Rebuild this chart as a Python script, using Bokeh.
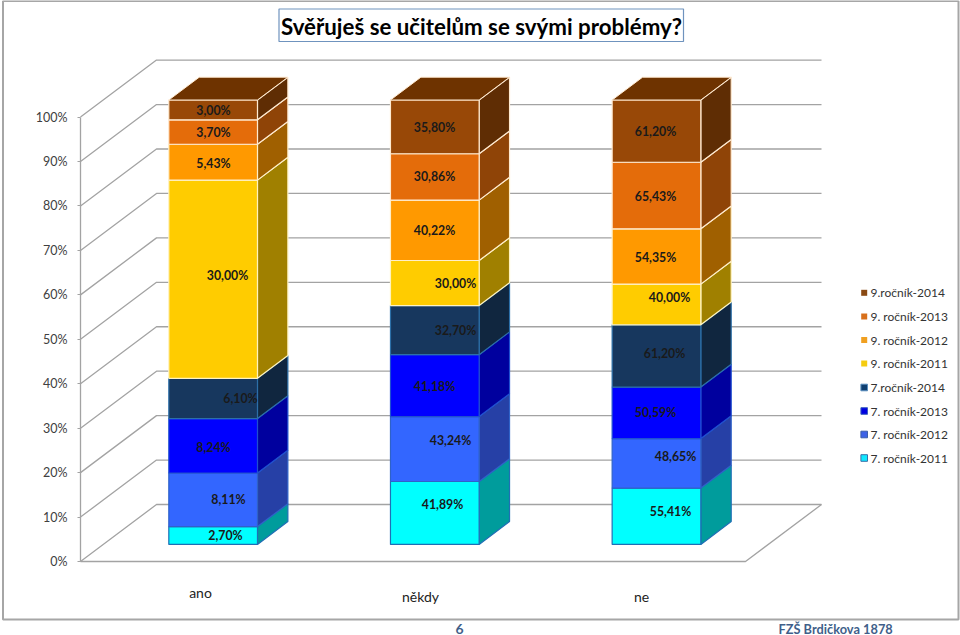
from bokeh.plotting import figure
from bokeh.embed import file_html
from bokeh.resources import INLINE
from bokeh.models import Range1d, LinearAxis, FixedTicker
from bokeh.core.properties import value

# ---- data -------------------------------------------------------------
title = "Svěřuješ se učitelům se svými problémy?"
categories = ["ano", "někdy", "ne"]
series_names = ["7. ročník-2011", "7. ročník-2012", "7. ročník-2013", "7.ročník-2014",
                "9. ročník-2011", "9. ročník-2012", "9. ročník-2013", "9.ročník-2014"]
r7_2011 = [2.70, 41.89, 55.41]
r7_2012 = [8.11, 43.24, 48.65]
r7_2013 = [8.24, 41.18, 50.59]
r7_2014 = [6.10, 32.70, 61.20]
r9_2011 = [30.00, 30.00, 40.00]
r9_2012 = [5.43, 40.22, 54.35]
r9_2013 = [3.70, 30.86, 65.43]
r9_2014 = [3.00, 35.80, 61.20]
all_series = [r7_2011, r7_2012, r7_2013, r7_2014, r9_2011, r9_2012, r9_2013, r9_2014]
pct_ticks = [0, 10, 20, 30, 40, 50, 60, 70, 80, 90, 100]

# ---- styles ------------------------------------------------------------
front = ["#00FFFF", "#3366FF", "#0000FF", "#17375E", "#FFCC00", "#FF9900", "#E46C0A", "#984807"]
side = ["#009C9C", "#2640A6", "#00009E", "#10263F", "#A08000", "#A06000", "#8F4407", "#5F2D04"]
edge = ["#1F6FB5", "#2F62C8", "#1F4FD0", "#2C6FA8", "#FFF3C0", "#FFEFC8", "#FFEAD0", "#FFEAD0"]
top_col = "#6E3300"
legend_col = ["#10E8FF", "#3D62E6", "#0000E0", "#0F3F70", "#F5CC10", "#F0A020", "#D8701C", "#8A4A14"]
legend_edge = ["#3A6FA8", "#3A5FA8", "#3A5FC0", "#5A8FC0", None, None, None, None]
grid = "#A3A3A3"
font_lab = "Lato"
font_tick = "Lato"

# pixel geometry of the projection
X0, Y0, CAT_W, PCT_H, DX, DY = 80.0, 561.0, 221.67, 4.444, 76.0, 57.0
W, H = 960, 635
def px(x): return (x - X0) / CAT_W
def py(y): return (Y0 - y) / PCT_H
DU, DV = DX / CAT_W, DY / PCT_H

p = figure(width=W, height=H, output_backend="svg", toolbar_location=None,
           x_range=Range1d(px(0), px(W)), y_range=Range1d(py(H), py(0)),
           x_axis_type=None, y_axis_type=None, min_border=0,
           outline_line_color=None, background_fill_color="white", border_fill_color="white")
p.grid.visible = False

# frame of the slide chart
p.patch([px(v) for v in (2.5, 958, 958, 2.5, 2.5)], [py(v) for v in (0.5, 0.5, 619, 619, 0.5)],
        fill_color="white", line_color="#A6A6A6", line_width=2)

# walls: gridlines
n_cat = len(categories)
for t in pct_ticks:
    p.line([0, DU, n_cat + DU], [t, t + DV, t + DV], line_color=grid, line_width=1.3)
p.line([0, n_cat, n_cat + DU], [0, 0, DV], line_color=grid, line_width=1.3)

# axis on the front left corner
ax = LinearAxis(fixed_location=0, bounds=(0, 100), ticker=FixedTicker(ticks=pct_ticks),
                major_label_overrides={t: f"{t}%" for t in pct_ticks},
                axis_line_color=grid, axis_line_width=1.3,
                major_tick_line_color=grid, major_tick_in=0, major_tick_out=3,
                minor_tick_line_color=None, major_label_standoff=10,
                major_label_text_font=font_tick, major_label_text_font_size="12.5px",
                major_label_text_color="#404040")
p.add_layout(ax, "left")

# bars
half, d1, d2, shift = 0.2, 0.3, 0.7, -0.0045
for c in range(n_cat):
    total = sum(s[c] for s in all_series)
    base = 0.0
    l, r = c + 0.5 - half + d1 * DU + shift, c + 0.5 + half + d1 * DU + shift
    for k, s in enumerate(all_series):
        h = 100.0 * s[c] / total
        b0, b1 = base + d1 * DV, base + h + d1 * DV
        p.patch([r, r + (d2 - d1) * DU, r + (d2 - d1) * DU, r],
                [b0, b0 + (d2 - d1) * DV, b1 + (d2 - d1) * DV, b1],
                fill_color=side[k], line_color=edge[k], line_width=1.2)
        p.quad(left=l, right=r, bottom=b0, top=b1, fill_color=front[k],
               line_color=edge[k], line_width=1.2)
        base += h
    t1 = base + d1 * DV
    p.patch([l, r, r + (d2 - d1) * DU, l + (d2 - d1) * DU],
            [t1, t1, t1 + (d2 - d1) * DV, t1 + (d2 - d1) * DV],
            fill_color=top_col, line_color=edge[-1], line_width=1.0)

def txt(x, y, s, size, font=font_lab, style="normal", color="#1A1A1A", align="center"):
    p.text(x=[px(x)], y=[py(y)], text=[s], text_font=value(font), text_font_size=size,
           text_font_style=style, text_color=color, text_align=align, text_baseline="middle")

# data labels (moved by hand in the original)
label_x = [[225, 228, 213, 240, 227, 213, 213, 213],
           [442, 450, 434, 455, 455, 434, 434, 434],
           [670, 675, 655, 664, 669, 655, 655, 655]]
label_y = [[535, 499, 447, 398, 275, 163, 132, 110],
           [504, 440, 386, 330, 283, 230, 176, 127],
           [511, 456, 412, 353, 297, 257, 196, 131]]
for c in range(n_cat):
    for k, s in enumerate(all_series):
        txt(label_x[c][k], label_y[c][k], f"{s[c]:.2f}%".replace(".", ","), "12.3px", style="bold")

# category labels
cat_x = [200, 420, 641]
cat_y = [592, 596, 596]
for n, x, y in zip(categories, cat_x, cat_y):
    txt(x, y, n, "14px", font=font_tick, color="#222222")

# legend
leg_y = [457.5, 434, 410.5, 387, 363, 339.5, 316, 292.3]
for k, n in enumerate(series_names):
    s = 3.3 if legend_edge[k] else 3.0
    x = 863.7
    p.quad(left=px(x - s), right=px(x + s), top=py(leg_y[k] - s), bottom=py(leg_y[k] + s),
           fill_color=legend_col[k], line_color=legend_edge[k], line_width=1)
    txt(870, leg_y[k], n, "12px", font=font_tick, color="#333333", align="left")

# title
p.patch([px(v) for v in (278.5, 683, 683, 278.5, 278.5)], [py(v) for v in (8.5, 8.5, 41, 41, 8.5)],
        fill_color="white", line_color="#6F93BE", line_width=1.2)
txt(481, 25.5, title, "22.3px", style="bold", color="#000000")

# footer
txt(459, 628, "6", "14px", style="bold", color="#3F5F8A")
txt(778, 628, "FZŠ Brdičkova 1878", "12.8px", style="bold", color="#3F5F8A", align="left")

open("out.html", "w").write(file_html(p, INLINE))
